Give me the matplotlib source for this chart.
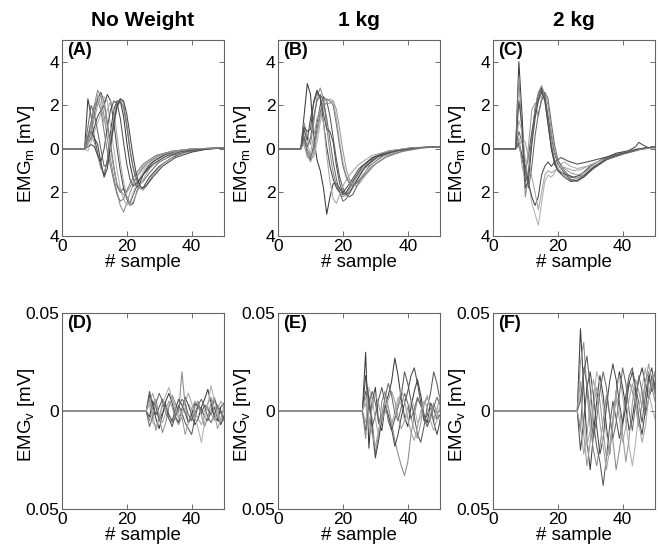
import numpy as np
import matplotlib
matplotlib.use("Agg")
import matplotlib.pyplot as plt

plt.rcParams["font.family"] = ["Liberation Sans", "DejaVu Sans"]
plt.rcParams["mathtext.fontset"] = "custom"
plt.rcParams["mathtext.rm"] = "Liberation Sans"

titles = ["No Weight", "1 kg", "2 kg"]
top_tags = ["(A)", "(B)", "(C)"]
bottom_tags = ["(D)", "(E)", "(F)"]

# --- top row: EMG_m traces as (sample, mV) key points ---
traces_a = [
    [(0, 0), (7, 0), (8, 2.3), (9, 1.5), (10, 0.5), (11, -0.2), (12, -0.8), (13, -1.2), (14, -0.5), (15, 0.8), (16, 1.8), (17, 2.2), (18, 2.2), (19, 1.5), (20, 0.3), (21, -0.7), (22, -1.4), (23, -1.7), (24, -1.8), (25, -1.8), (27, -1.3), (30, -0.8), (34, -0.4), (38, -0.15), (42, -0.05), (50, 0.05)],
    [(0, 0), (7, 0), (8, 0.5), (10, 2.0), (11, 2.7), (12, 2.4), (13, 1.5), (14, 0.5), (15, -0.5), (16, -1.3), (17, -2.0), (18, -2.6), (19, -2.9), (20, -2.5), (21, -2.0), (23, -1.3), (26, -0.7), (30, -0.3), (35, -0.1), (40, 0), (50, 0.05)],
    [(0, 0), (7, 0), (9, 1.0), (11, 2.3), (12, 2.6), (13, 2.2), (14, 1.2), (15, 0.2), (16, -0.8), (17, -1.7), (18, -2.0), (19, -1.8), (20, -2.2), (21, -2.5), (22, -2.1), (24, -1.4), (27, -0.7), (31, -0.3), (36, -0.1), (42, 0), (50, 0.05)],
    [(0, 0), (7, 0), (8, -0.1), (10, 0.8), (12, 1.6), (13, 2.4), (14, 2.2), (15, 1.0), (16, 0), (17, -1.0), (18, -1.8), (19, -2.3), (20, -2.6), (21, -2.4), (23, -1.6), (26, -0.8), (30, -0.35), (35, -0.1), (42, 0), (50, 0.05)],
    [(0, 0), (7, 0), (9, 0.5), (11, 1.5), (13, 2.0), (14, 2.5), (15, 2.2), (16, 1.2), (17, 0), (18, -1.0), (19, -1.8), (20, -2.3), (21, -2.6), (22, -2.5), (23, -2.0), (25, -1.2), (28, -0.6), (32, -0.25), (38, -0.05), (50, 0.05)],
    [(0, 0), (7, 0), (8, 0.2), (9, 0.6), (10, 0.3), (11, -0.3), (12, -0.9), (13, -1.1), (14, -0.6), (15, 0.5), (16, 1.5), (17, 2.1), (18, 2.3), (19, 2.1), (20, 1.2), (21, 0), (22, -0.9), (23, -1.5), (24, -1.8), (25, -1.9), (26, -1.7), (28, -1.2), (31, -0.7), (35, -0.3), (40, -0.1), (45, 0), (50, 0.05)],
    [(0, 0), (7, 0), (8, 1.0), (9, 2.0), (10, 1.6), (11, 0.8), (12, 0), (13, -0.8), (14, -0.7), (15, 0), (16, 1.1), (17, 1.9), (18, 2.2), (19, 1.9), (20, 1.0), (21, -0.1), (22, -0.9), (23, -1.4), (24, -1.6), (25, -1.5), (27, -1.1), (30, -0.6), (34, -0.3), (39, -0.1), (45, 0), (50, 0.05)],
    [(0, 0), (7, 0), (8, 0.3), (10, 1.8), (11, 2.5), (12, 2.0), (13, 1.2), (14, 1.8), (15, 2.2), (16, 1.8), (17, 0.6), (18, -0.6), (19, -1.5), (20, -2.2), (21, -2.6), (22, -2.4), (24, -1.7), (27, -0.9), (31, -0.4), (36, -0.1), (42, 0), (50, 0.05)],
    [(0, 0), (7, 0), (9, 0.2), (10, 0.1), (11, -0.3), (12, -0.6), (13, 0), (14, 1.0), (15, 1.8), (16, 2.2), (17, 2.1), (18, 1.4), (19, 0.3), (20, -0.7), (21, -1.4), (22, -1.7), (23, -1.6), (25, -1.2), (28, -0.7), (32, -0.35), (37, -0.12), (43, 0), (50, 0.05)],
    [(0, 0), (7, 0), (9, 1.2), (10, 2.0), (11, 2.2), (12, 1.8), (13, 0.8), (14, -0.1), (15, -0.8), (16, -1.5), (17, -2.1), (18, -2.4), (19, -2.3), (20, -1.9), (22, -1.3), (25, -0.7), (29, -0.3), (34, -0.1), (40, 0), (50, 0.05)],
    [(0, 0), (7, 0), (8, 0.4), (9, 0.8), (10, 0.5), (11, 0.2), (12, -0.6), (13, -1.3), (14, -0.9), (15, 0.2), (16, 1.2), (17, 2.0), (18, 2.3), (19, 2.2), (20, 1.6), (21, 0.6), (22, -0.4), (23, -1.2), (24, -1.7), (25, -1.8), (26, -1.7), (28, -1.3), (31, -0.8), (35, -0.4), (40, -0.15), (45, 0), (50, 0.05)],
    [(0, 0), (7, 0), (9, 0.8), (11, 2.0), (12, 2.5), (13, 2.1), (14, 1.0), (15, 0.0), (16, -0.9), (17, -1.6), (18, -1.9), (19, -2.1), (20, -2.0), (22, -1.5), (25, -0.8), (29, -0.35), (34, -0.12), (40, 0), (50, 0.05)],
]

traces_b = [
    [(0, 0), (7, 0), (8, 1.5), (9, 3.0), (10, 2.5), (11, 0.5), (12, -0.5), (13, -1.0), (14, -1.8), (15, -3.0), (16, -2.2), (17, -1.6), (18, -1.6), (19, -1.8), (20, -2.1), (21, -2.0), (23, -1.5), (26, -0.8), (30, -0.35), (35, -0.1), (42, 0.05), (50, 0.1)],
    [(0, 0), (7, 0), (8, 1.2), (9, 0.6), (10, 0.2), (11, 1.2), (12, 2.4), (13, 2.8), (14, 2.3), (15, 1.0), (16, -0.2), (17, -1.1), (18, -1.7), (19, -2.0), (20, -2.2), (21, -2.1), (23, -1.6), (26, -0.9), (30, -0.4), (35, -0.12), (42, 0.05), (50, 0.1)],
    [(0, 0), (7, 0), (8, 0.5), (9, -0.2), (10, -0.5), (11, 0.2), (12, 1.2), (13, 2.0), (14, 2.4), (15, 2.2), (16, 1.5), (17, 0.5), (18, -0.5), (19, -1.3), (20, -1.8), (21, -2.1), (22, -2.2), (23, -2.1), (25, -1.5), (28, -0.8), (32, -0.35), (37, -0.1), (44, 0.05), (50, 0.1)],
    [(0, 0), (7, 0), (8, 0.8), (9, 0.3), (10, -0.3), (11, -0.4), (12, 0.3), (13, 1.2), (14, 1.9), (15, 2.2), (16, 2.3), (17, 2.2), (18, 1.4), (19, 0.3), (20, -0.6), (21, -1.2), (22, -1.5), (23, -1.6), (24, -1.6), (26, -1.2), (29, -0.7), (33, -0.3), (38, -0.1), (45, 0.05), (50, 0.1)],
    [(0, 0), (7, 0), (8, 1.0), (9, 0.8), (10, 0.9), (11, 2.2), (12, 2.7), (13, 2.3), (14, 1.2), (15, 0.1), (16, -0.8), (17, -1.4), (18, -1.8), (19, -2.0), (20, -2.0), (22, -1.6), (25, -0.9), (29, -0.4), (34, -0.1), (41, 0.05), (50, 0.1)],
    [(0, 0), (7, 0), (8, 0.3), (9, -0.3), (10, -0.6), (11, -0.2), (12, 0.7), (13, 1.5), (14, 2.0), (15, 2.1), (16, 2.1), (17, 2.2), (18, 1.8), (19, 0.9), (20, -0.1), (21, -0.9), (22, -1.4), (23, -1.6), (24, -1.7), (25, -1.6), (27, -1.2), (30, -0.7), (34, -0.3), (39, -0.1), (45, 0.05), (50, 0.1)],
    [(0, 0), (7, 0), (8, 0.6), (9, 0.1), (10, 0.5), (11, 1.5), (12, 2.2), (13, 2.5), (14, 2.2), (15, 1.4), (16, 0.4), (17, -0.6), (18, -1.4), (19, -2.0), (20, -2.4), (21, -2.3), (23, -1.8), (26, -1.0), (30, -0.4), (35, -0.12), (42, 0.05), (50, 0.1)],
    [(0, 0), (7, 0), (8, 0.2), (9, -0.4), (10, -0.2), (11, 0.6), (12, 1.4), (13, 1.8), (14, 1.2), (15, -0.3), (16, -1.5), (17, -2.3), (18, -2.5), (19, -2.1), (20, -1.7), (22, -1.2), (25, -0.7), (29, -0.3), (34, -0.1), (41, 0.05), (50, 0.1)],
    [(0, 0), (7, 0), (8, 0.9), (9, 0.4), (10, 1.4), (11, 2.1), (12, 2.6), (13, 2.4), (14, 1.6), (15, 0.9), (16, 0.8), (17, 0.3), (18, -0.8), (19, -1.6), (20, -2.0), (21, -2.1), (22, -2.0), (24, -1.5), (27, -0.8), (31, -0.35), (36, -0.1), (43, 0.05), (50, 0.1)],
    [(0, 0), (7, 0), (8, 0.4), (9, 0.0), (10, -0.4), (11, 0.0), (12, 0.9), (13, 1.7), (14, 2.2), (15, 2.3), (16, 2.2), (17, 2.0), (18, 1.1), (19, 0.1), (20, -0.8), (21, -1.3), (22, -1.6), (23, -1.7), (24, -1.6), (26, -1.3), (29, -0.8), (33, -0.4), (38, -0.12), (44, 0.05), (50, 0.1)],
]

traces_c = [
    [(0, 0), (7, 0), (8, 4.0), (9, 1.5), (10, -1.5), (11, -1.0), (12, 0.5), (13, 1.8), (14, 2.5), (15, 2.8), (16, 2.3), (17, 1.2), (18, 0.0), (19, -0.7), (20, -1.0), (21, -1.1), (23, -1.2), (25, -1.3), (27, -1.2), (30, -0.8), (34, -0.45), (38, -0.2), (43, -0.05), (50, 0.1)],
    [(0, 0), (7, 0), (8, 3.3), (9, 0.5), (10, -2.2), (11, -1.2), (12, 0.5), (13, 1.9), (14, 2.6), (15, 2.9), (16, 2.5), (17, 1.4), (18, 0.3), (19, -0.5), (20, -0.9), (22, -1.2), (24, -1.45), (26, -1.5), (28, -1.3), (31, -0.9), (35, -0.5), (40, -0.2), (45, 0.0), (50, 0.1)],
    [(0, 0), (7, 0), (8, 0.2), (9, -0.5), (10, -1.0), (11, -0.3), (12, 0.8), (13, 1.6), (14, 2.3), (15, 2.7), (16, 2.4), (17, 1.5), (18, 0.6), (19, -0.2), (20, -0.7), (22, -1.1), (24, -1.4), (26, -1.45), (28, -1.3), (31, -0.9), (35, -0.5), (40, -0.25), (45, -0.05), (50, 0.1)],
    [(0, 0), (7, 0), (8, 1.3), (9, 0.8), (10, -0.5), (11, -1.5), (12, -2.5), (13, -3.0), (14, -3.5), (15, -2.5), (16, -1.5), (17, -1.2), (18, -1.3), (19, -1.1), (20, -0.8), (22, -0.6), (24, -0.8), (26, -0.9), (29, -0.8), (32, -0.6), (36, -0.4), (40, -0.2), (44, 0.0), (50, 0.05)],
    [(0, 0), (7, 0), (8, 0.3), (9, -0.3), (10, -0.8), (11, -1.6), (12, -2.2), (13, -2.6), (14, -2.2), (15, -1.2), (16, -0.8), (17, -0.6), (18, -0.8), (19, -0.6), (21, -0.4), (23, -0.55), (26, -0.7), (29, -0.6), (33, -0.45), (37, -0.3), (41, -0.15), (44, 0.1), (45, 0.3), (46, 0.2), (48, 0.05), (50, 0.1)],
    [(0, 0), (7, 0), (8, 0.5), (9, -0.8), (10, -1.4), (11, 0.2), (12, 1.8), (13, 2.1), (14, 1.5), (15, 2.4), (16, 2.6), (17, 2.0), (18, 0.8), (19, -0.1), (20, -0.6), (22, -0.9), (24, -1.1), (26, -1.2), (28, -1.1), (31, -0.8), (35, -0.5), (39, -0.25), (44, -0.05), (50, 0.1)],
    [(0, 0), (7, 0), (8, 0.8), (9, 0.3), (10, -1.0), (11, -1.8), (12, -0.8), (13, 0.6), (14, 1.6), (15, 2.2), (16, 2.6), (17, 2.3), (18, 1.2), (19, 0.2), (20, -0.5), (22, -1.0), (24, -1.3), (26, -1.35), (28, -1.2), (31, -0.85), (35, -0.5), (39, -0.25), (44, -0.05), (50, 0.1)],
    [(0, 0), (7, 0), (8, 0.1), (9, 0.5), (10, 0.3), (11, -0.5), (12, -1.3), (13, -2.0), (14, -2.8), (15, -2.0), (16, -1.2), (17, -1.0), (18, -1.1), (19, -1.0), (21, -0.8), (23, -0.9), (25, -1.0), (27, -0.95), (30, -0.75), (34, -0.5), (38, -0.3), (42, -0.1), (46, 0.0), (50, 0.05)],
    [(0, 0), (7, 0), (8, 2.2), (9, 1.0), (10, -1.8), (11, -1.4), (12, 0.2), (13, 1.4), (14, 2.2), (15, 2.6), (16, 2.2), (17, 1.1), (18, 0.1), (19, -0.6), (20, -1.0), (22, -1.3), (24, -1.5), (26, -1.45), (28, -1.25), (31, -0.85), (35, -0.45), (40, -0.2), (45, 0.0), (50, 0.1)],
]

# --- bottom row: EMG_v, zero until sample 26, then values (x1e-3 mV) for samples 26..50 ---
onset_v = 26
traces_d = [
    [0, 8, 3, -4, -9, -2, 5, 9, 4, -3, -6, 1, 7, 3, -2, -7, -4, 2, 6, 11, 4, -3, -5, 2, 4],
    [0, -5, 2, 6, -3, -11, -6, 2, 8, 4, -1, 20, 3, -6, -4, 2, 5, -2, -8, -3, 4, 7, 1, -6, -2],
    [0, 10, 4, -2, 2, 6, 3, -4, -8, -2, 3, -1, -6, -9, -12, -4, 3, 1, -3, -5, 0, 6, 2, -1, -4],
    [0, 3, -6, -8, -3, 4, 8, 12, 6, 0, -4, -2, 2, 4, 1, -3, -9, -16, -6, 3, 13, 5, -2, -6, 1],
    [0, -3, 5, 2, -5, -1, 3, -2, -5, 1, 6, 3, -1, -6, -2, 4, 2, -1, 3, 1, -2, 2, -4, -7, -3],
    [0, 6, -2, -10, -4, 3, 1, 5, 2, -4, -7, -3, -12, -6, 1, 5, 3, -2, 0, 4, 7, -1, -9, -4, 3],
    [0, -8, -3, 4, 9, 5, -1, -4, -6, -3, 2, 6, 4, -2, -5, -1, 3, 6, 2, -3, -6, -2, 3, 0, -5],
    [0, 4, 9, 3, -2, -6, -1, 3, 7, 2, -3, 0, 5, 9, 4, -1, -4, -7, -2, 2, -1, -5, 1, 5, 2],
]
traces_e = [
    [0, 30, -19, 5, 12, -6, -10, 3, 8, 15, 27, 18, 6, -3, -8, 2, 10, 16, 8, -2, -6, 4, 1, -4, -2],
    [0, -14, 8, -4, -22, -12, 5, 10, 2, -6, -15, -22, -28, -33, -26, -12, -2, 6, 3, -4, -8, -2, 4, -1, -6],
    [0, 10, 4, -8, -2, 6, 12, 4, -5, -10, -4, 2, 8, 20, 14, 5, -3, -12, -16, -8, 2, 9, 20, 14, 5],
    [0, -6, 12, 6, -4, -13, -6, 4, -3, -8, 0, 7, 3, -5, -2, 6, 2, -6, -3, 4, 8, 1, -5, -2, 3],
    [0, 18, 6, -9, -24, -15, -4, 3, -2, -9, -18, -12, -3, 4, 10, 18, 22, 14, 4, -5, -2, 3, -6, -12, -5],
    [0, 4, -8, 2, 9, 3, -4, -1, 6, 10, 5, -3, -9, -5, 2, -3, -10, -14, -6, 3, 7, 2, -4, 1, 8],
    [0, -10, 3, 10, 4, -6, -2, 7, 14, 8, -1, -5, 2, 9, 4, -4, 1, 7, 3, -2, -8, -4, 2, 7, 3],
    [0, 7, -3, -12, -18, -10, -3, 5, 1, -6, -3, 4, 11, 5, -4, -11, -15, -8, 0, 5, 2, -5, -10, -4, 2],
]
traces_f = [
    [0, 42, 12, -15, -30, -12, 5, 18, 8, -8, -22, -5, 10, 20, 12, 2, -10, -4, 8, 16, 22, 14, 6, 12, 20],
    [0, 25, 35, 10, -8, -20, -28, -18, -5, 8, -2, -15, -30, -20, -8, 5, 15, 10, 2, -8, 4, 15, 20, 12, 5],
    [0, -10, 20, 28, 12, -6, -18, -26, -38, -24, -8, 5, -4, -14, -6, 8, 18, 22, 12, 4, -6, 8, 18, 10, 14],
    [0, 8, -5, -18, -10, 6, 20, 14, 2, -12, -20, -8, 10, 18, 8, -6, -18, -28, -16, 0, 12, 22, 10, 2, -4],
    [0, -20, -5, 12, 20, 8, -8, -22, -14, 2, 15, 24, 16, 4, -6, 2, 14, 20, 10, -4, -12, 0, 16, 22, 12],
    [0, 15, -12, -28, -16, 2, 12, 5, -10, -24, -18, -4, 8, 2, -12, -26, -14, 4, 16, 10, 2, 14, 24, 16, 8],
    [0, 5, 22, 14, 0, -14, -4, 10, 20, 12, -2, -14, -6, 8, 22, 14, 0, -10, 4, 18, 10, -2, 6, 18, 10],
    [0, -8, -22, -12, 4, 16, 8, -6, -18, -30, -20, -6, 6, -4, -16, -8, 6, 14, 6, -6, -16, -8, 6, 14, 20],
]

grays = ["#3a3a3a", "#8a8a8a", "#5a5a5a", "#b0b0b0", "#4a4a4a", "#9a9a9a", "#6a6a6a", "#a5a5a5",
         "#505050", "#7a7a7a", "#444444", "#959595"]

fig = plt.figure(figsize=(6.59, 5.52), dpi=100)
lefts = [0.094, 0.422, 0.748]
w, h = 0.246, 0.355


def style(ax):
    ax.set_xlim(0, 50)
    ax.set_xticks([0, 20, 40])
    ax.tick_params(direction="in", top=True, right=True, length=3.5, width=0.6,
                   labelsize=12.5, colors="#555555", labelcolor="black", pad=2)
    for s in ax.spines.values():
        s.set_color("#666666")
        s.set_linewidth(0.8)
    ax.set_xlabel("# sample", fontsize=13.5, labelpad=0)


for i, traces in enumerate([traces_a, traces_b, traces_c]):
    ax = fig.add_axes([lefts[i], 0.5725, w, h])
    for k, tr in enumerate(traces):
        xs, ys = zip(*tr)
        ax.plot(xs, ys, color=grays[k % len(grays)], lw=0.75)
    ax.set_ylim(-4, 5)
    ax.set_yticks([4, 2, 0, -2, -4])
    ax.set_yticklabels(["4", "2", "0", "2", "4"])
    style(ax)
    ax.set_ylabel(r"EMG$_{\rm m}$ [mV]", fontsize=13.5)
    ax.yaxis.set_label_coords(-0.155, 0.42)
    ax.set_title(titles[i], fontsize=15, fontweight="bold", pad=10)
    ax.text(0.03, 0.99, top_tags[i], transform=ax.transAxes, fontsize=13,
            fontweight="bold", va="top", ha="left")

for i, traces in enumerate([traces_d, traces_e, traces_f]):
    ax = fig.add_axes([lefts[i], 0.078, w, h])
    for k, vals in enumerate(traces):
        xs = np.arange(onset_v, onset_v + len(vals))
        ax.plot(np.r_[0, xs], np.r_[0, np.array(vals) * 1e-3],
                color=grays[k % len(grays)], lw=0.75)
    ax.set_ylim(-0.05, 0.05)
    ax.set_yticks([0.05, 0, -0.05])
    ax.set_yticklabels(["0.05", "0", "0.05"])
    style(ax)
    ax.set_ylabel(r"EMG$_{\rm v}$ [mV]", fontsize=13.5)
    ax.yaxis.set_label_coords(-0.155, 0.48)
    ax.text(0.03, 0.99, bottom_tags[i], transform=ax.transAxes, fontsize=13,
            fontweight="bold", va="top", ha="left")

fig.savefig("out.png", dpi=100)
